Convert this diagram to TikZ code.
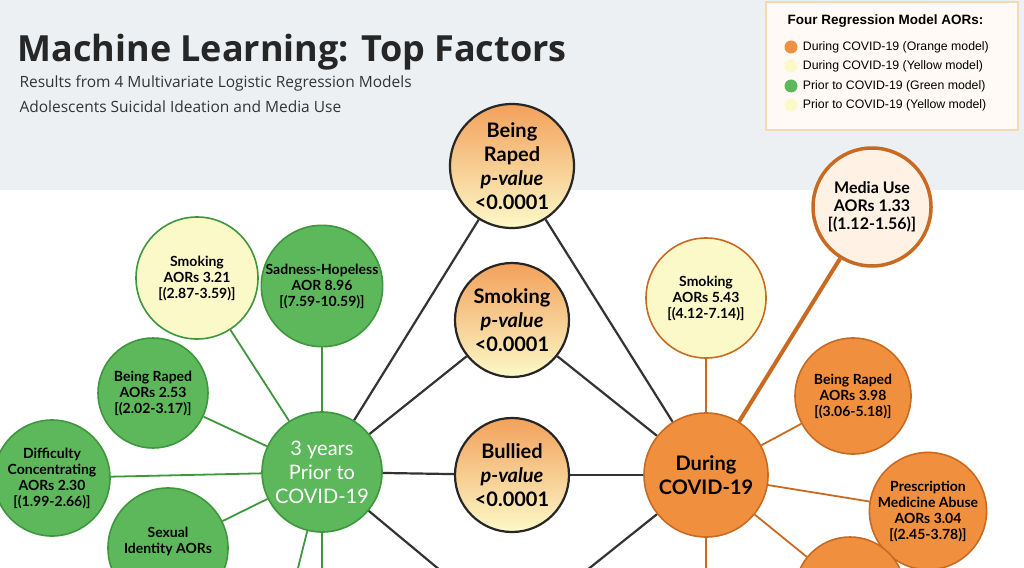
\documentclass[tikz,border=0pt]{standalone}
\usepackage{fontspec}
\setmainfont{Lato}
\newfontfamily\headfont{Open Sans}
\newfontfamily\legfont{Liberation Sans}
\usetikzlibrary{positioning,backgrounds}
\definecolor{hdrgray}{HTML}{EDF0F2}
\definecolor{grn}{HTML}{5DB85C}
\definecolor{grnd}{HTML}{3E963D}
\definecolor{org}{HTML}{F0903E}
\definecolor{orgd}{HTML}{C86A22}
\definecolor{pale}{HTML}{FCF9C8}
\definecolor{legbd}{HTML}{F6D9B0}
\tikzset{
  bub/.style={circle,inner sep=0pt,align=center,line width=1.6pt,font=\bfseries\fontsize{14}{16}\selectfont},
  greennode/.style={bub,fill=grn,draw=grnd},
  greenpale/.style={bub,fill=pale,draw=grnd},
  orangenode/.style={bub,fill=org,draw=orgd},
  orangepale/.style={bub,fill=pale,draw=orgd},
  pnode/.style={bub,draw=black!85,line width=2.2pt,top color=org!85,bottom color=pale,font=\bfseries\fontsize{20}{24}\selectfont},
  glink/.style={grnd,line width=1.8pt},
  olink/.style={orgd,line width=1.8pt},
  blink/.style={black!80,line width=2.2pt},
  legdot/.style={circle,minimum size=13pt,inner sep=0pt},
}
\begin{document}
\begin{tikzpicture}[x=1pt,y=-1pt]
\useasboundingbox (0,0) rectangle (1024,567);
\clip (0,0) rectangle (1024,567);
\fill[hdrgray] (0,0) rectangle (1024,190);
% title
\node[anchor=base west,font=\headfont\bfseries\fontsize{36}{40}\selectfont,text=black!85] (title) at (14,62) {Machine Learning: Top Factors};
\node[anchor=base west,font=\headfont\fontsize{15.5}{18}\selectfont,text=black!80] (sub1) at (16,88) {Results from 4 Multivariate Logistic Regression Models};
\node[anchor=base west,font=\headfont\fontsize{15.5}{18}\selectfont,text=black!80] (sub2) at (16,113) {Adolescents Suicidal Ideation and Media Use};
% legend
\draw[legbd,fill=white!96!orange,line width=1.5pt] (766,2) rectangle (1018,130);
\node[anchor=base west,font=\legfont\bfseries\fontsize{13.5}{15}\selectfont] (legt) at (784,25) {Four Regression Model AORs:};
\foreach \y/\c/\t in {47/org/During COVID-19 (Orange model),66/pale/During COVID-19 (Yellow model),86/grn/Prior to COVID-19 (Green model),105/pale/Prior to COVID-19 (Yellow model)}{
  \node[legdot,fill=\c] (d\y) at (791,\y) {};
  \node[right=5pt of d\y,font=\legfont\fontsize{12.3}{14}\selectfont,inner sep=0pt] {\t};
}
% p-value nodes
\node[pnode,minimum size=124pt] (prape) at (512,166) {Being\\Raped\\\textit{p-value}\\<0.0001};
\node[pnode,minimum size=114pt] (psmoke) at (512,320) {Smoking\\\textit{p-value}\\<0.0001};
\node[pnode,minimum size=114pt] (pbully) at (512,475) {Bullied\\\textit{p-value}\\<0.0001};
\node[pnode,minimum size=114pt] (pnext) at (512,630) {};
% hubs
\node[greennode,minimum size=120pt,text=white,font=\fontsize{20}{24}\selectfont] (prior) at (322,472) {3 years\\Prior to\\COVID-19};
\node[orangenode,minimum size=124pt,font=\bfseries\fontsize{20}{24}\selectfont] (during) at (706,475) {During\\COVID-19};
% green satellites
\node[greenpale,minimum size=122pt] (gsmoke) at (197,278) {Smoking\\AORs 3.21\\{[}(2.87-3.59){]}};
\node[greennode,minimum size=120pt] (gsad) at (322,286) {Sadness-Hopeless\\AOR 8.96\\{[}(7.59-10.59){]}};
\node[greennode,minimum size=110pt] (grape) at (153,393) {Being Raped\\AORs 2.53\\{[}(2.02-3.17){]}};
\node[greennode,minimum size=116pt] (gdiff) at (52,478) {Difficulty\\Concentrating\\AORs 2.30\\{[}(1.99-2.66){]}};
\node[greennode,minimum size=120pt] (gsex) at (168,548) {Sexual\\Identity AORs\\\phantom{x}};
\coordinate (gdown1) at (290,600);
\coordinate (gdown2) at (322,600);
% orange satellites
\node[bub,fill=white!90!orange,draw=orgd,line width=3.5pt,minimum size=118pt,font=\bfseries\fontsize{16}{18}\selectfont] (media) at (872,207) {Media Use\\AORs 1.33\\{[}(1.12-1.56){]}};
\node[orangepale,minimum size=120pt] (osmoke) at (706,298) {Smoking\\AORs 5.43\\{[}(4.12-7.14){]}};
\node[orangenode,minimum size=116pt] (orape) at (853,396) {Being Raped\\AORs 3.98\\{[}(3.06-5.18){]}};
\node[orangenode,minimum size=116pt] (opres) at (928,511) {Prescription\\Medicine Abuse\\AORs 3.04\\{[}(2.45-3.78){]}};
\node[orangenode,minimum size=110pt] (onext) at (850,592) {};
\coordinate (odown) at (706,600);
% links
\begin{pgfonlayer}{background}
\foreach \n in {gsmoke,gsad,grape,gdiff,gsex,gdown1,gdown2} \draw[glink] (prior) -- (\n);
\foreach \n in {osmoke,orape,opres,onext,odown} \draw[olink] (during) -- (\n);
\draw[orgd,line width=4pt] (during) -- (media);
\foreach \n in {prape,psmoke,pbully,pnext} {
  \draw[blink] (prior) -- (\n);
  \draw[blink] (during) -- (\n);
}
\end{pgfonlayer}
\end{tikzpicture}
\end{document}
